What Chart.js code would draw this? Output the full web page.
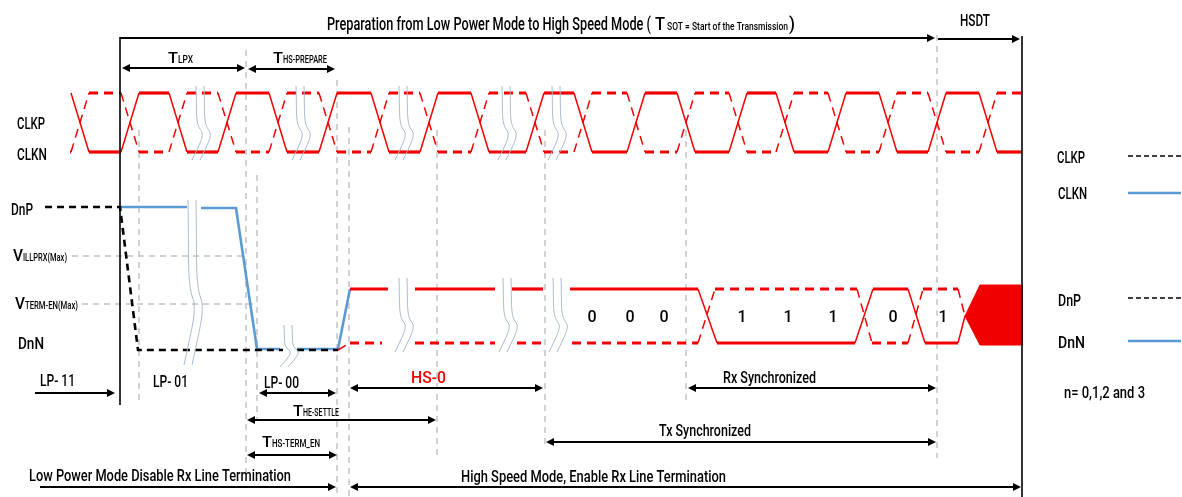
<!DOCTYPE html>
<html>
<head>
<meta charset="utf-8">
<script src="https://cdn.jsdelivr.net/npm/chart.js@4.4.0/dist/chart.umd.min.js"></script>
<style>
  html, body { margin: 0; padding: 0; background: #fff; }
  #wrap { width: 1182px; height: 497px; position: relative; }
</style>
</head>
<body>
<div id="wrap"><canvas id="myChart"></canvas></div>
<script>
// ---- values (diagram units: time -> x, level -> y) ----

// clock lane: crossing times of CLKP/CLKN
const clkEdges = [80, 130, 178, 227, 278, 328, 380, 429, 480, 535, 583, 636, 686, 738, 785, 837, 888, 937, 988];
const clkHigh = 93;
const clkLow = 152;
const clkStart = 71;
const clkEnd = 1022;

// data lane, DnP (black dashed)
const dnpT = [45, 120, 138, 283, null, 297, 338];
const dnpV = [207, 207, 350, 350, null, 350, 350];

// data lane, DnN (blue)
const dnnT = [120, 187, null, 201, 236, 257, 280, null, 297, 338, 350];
const dnnV = [207, 207, null, 208, 208, 349, 349, null, 349, 349, 289];

// HS data lane, solid
const hsSolidT = [350, 388, null, 415, 495, null, 512, 543, null, 570, 698, 717, 855, 873, 908, 925, 958, 965];
const hsSolidV = [289, 289, null, 289, 289, null, 289, 289, null, 289, 289, 343, 343, 289, 289, 343, 343, 316];

// HS data lane, dashed
const hsDashT = [338, 350, 382, null, 415, 495, null, 517, 545, null, 572, 698, 715, 857, 872, 908, 923, 958, 965];
const hsDashV = [350, 343, 343, null, 343, 343, null, 343, 343, null, 343, 343, 289, 289, 343, 343, 289, 289, 316];

// HSDT burst
const burstT = [965, 980, 1022, 1022, 980, 965];
const burstV = [316, 285, 285, 345, 345, 316];

// transmitted bits
const bits = ['0', '0', '0', '1', '1', '1', '0', '1'];
const bitT = [592, 630, 664, 742, 788, 833, 893, 943];

// grey guide lines
const guideT = [139, 246, 257, 337, 349, 437, 545, 686, 937];
const guideTop = [130, 50, 175, 80, 127, 130, 130, 130, 35];
const guideBottom = [400, 478, 420, 497, 497, 460, 445, 400, 458];
const thrV = [256, 304];
const thrFrom = [72, 82];
const thrTo = [245, 255];

// time breaks (squiggles)
const clkBreaks = [200, 300, 403, 506, 556];
const dataBreakT = [192, 288, 403, 507, 557];
const dataBreakTop = [200, 325, 278, 278, 278];
const dataBreakBottom = [365, 367, 352, 352, 352];

// ---- helpers ----
const RED = '#f00000';
const BLUE = '#5b9bd5';
const FONT = 'Roboto, "Liberation Sans", sans-serif';

function zip(ts, vs) {
  return ts.map((t, i) => ({ x: t === null ? ts[i - 1] : t, y: vs[i] }));
}

function clockPoints(startHigh) {
  const ramp = 9;
  const lvl = h => (h ? clkHigh : clkLow);
  let high = startHigh;
  const pts = [{ x: clkStart, y: lvl(high) }];
  clkEdges.forEach(e => {
    pts.push({ x: e - ramp, y: lvl(high) });
    high = !high;
    pts.push({ x: e + ramp, y: lvl(high) });
  });
  pts.push({ x: clkEnd, y: lvl(high) });
  return pts;
}

const flatThick = (thick, thin) => ({
  borderWidth: c => (Math.abs(c.p0.y - c.p1.y) < 0.5 ? thick : thin)
});

function guidePoints() {
  const pts = [];
  guideT.forEach((t, i) => {
    pts.push({ x: t, y: guideTop[i] }, { x: t, y: guideBottom[i] }, { x: t, y: null });
  });
  thrV.forEach((v, i) => {
    pts.push({ x: thrFrom[i], y: v }, { x: thrTo[i], y: v }, { x: thrTo[i], y: null });
  });
  return pts;
}

// annotations: [text, x, baseline, width, size, color]
const labels = [
  ['Preparation from Low Power Mode to High Speed Mode (', 327, 30, 324, 18],
  ['T', 655, 30, 10, 18],
  ['SOT = Start of the Transmission', 667, 30, 121, 11],
  [')', 789, 30, 6, 18],
  ['HSDT', 960, 26, 30, 17],
  ['T', 168, 63, 10, 15], ['LPX', 178, 63, 15, 10],
  ['T', 273, 63, 10, 15], ['HS-PREPARE', 283, 63, 44, 10],
  ['CLKP', 17, 129, 28, 17],
  ['CLKN', 17, 160, 30, 17],
  ['DnP', 11, 215, 22, 17],
  ['V', 13, 261, 10, 17], ['ILLPRX(Max)', 23, 261, 44, 11],
  ['V', 15, 309, 10, 17], ['TERM-EN(Max)', 25, 309, 53, 11],
  ['DnN', 18, 349, 26, 17],
  ['LP- 11', 40, 386, 35, 16],
  ['LP- 01', 153, 387, 35, 16],
  ['LP- 00', 264, 388, 35, 16],
  ['HS-0', 411, 383, 35, 16, RED],
  ['Rx Synchronized', 723, 383, 93, 16],
  ['T', 293, 416, 10, 15], ['HE-SETTLE', 303, 416, 36, 10],
  ['T', 262, 447, 10, 15], ['HS-TERM_EN', 272, 447, 48, 10],
  ['Tx Synchronized', 659, 436, 92, 16],
  ['Low Power Mode Disable Rx Line Termination', 29, 481, 262, 16],
  ['High Speed Mode, Enable Rx Line Termination', 461, 482, 265, 16],
  ['CLKP', 1057, 163, 28, 16],
  ['CLKN', 1058, 199, 29, 16],
  ['DnP', 1058, 306, 23, 16],
  ['DnN', 1058, 348, 27, 16],
  ['n= 0,1,2 and 3', 1064, 398, 81, 16]
];

// arrows: [from, to, y, heads]
const arrows = [
  [120, 935, 38, 'end'],
  [938, 1020, 39, 'end'],
  [122, 245, 68, 'both'],
  [248, 335, 69, 'both'],
  [35, 115, 393, 'end'],
  [259, 336, 393, 'both'],
  [350, 543, 388, 'both'],
  [688, 936, 388, 'both'],
  [247, 436, 420, 'both'],
  [247, 337, 455, 'both'],
  [546, 936, 442, 'both'],
  [40, 336, 487, 'end'],
  [350, 1021, 487, 'both']
];

// solid black frame lines: [x, top, bottom]
const frameLines = [[120, 37, 405], [1022, 36, 497]];

// legend samples: [y, dashed]
const legendLines = [[156, true], [193, false], [298, true], [341, false]];

const diagramPlugin = {
  id: 'diagram',
  afterDatasetsDraw(chart) {
    const c = chart.ctx;
    const sx = chart.scales.x, sy = chart.scales.y;
    const X = v => sx.getPixelForValue(v);
    const Y = v => sy.getPixelForValue(v);

    // squiggles
    c.save();
    c.strokeStyle = '#a7bcd2';
    c.lineWidth = 1;
    const squiggle = (t, top, bot) => {
      const x = X(t), y0 = Y(top), y1 = Y(bot), h = y1 - y0;
      [-4, 4].forEach(dx => {
        const x0 = x + dx;
        c.beginPath();
        c.moveTo(x0, y0);
        c.bezierCurveTo(x0 + 1, y0 + h * 0.35, x0 - 1, y0 + h * 0.5, x0 + 5, y0 + h * 0.6);
        c.bezierCurveTo(x0 + 9, y0 + h * 0.67, x0 + 3, y0 + h * 0.8, x0 - 4, y1);
        c.stroke();
      });
    };
    clkBreaks.forEach(t => squiggle(t, 86, 160));
    dataBreakT.forEach((t, i) => squiggle(t, dataBreakTop[i], dataBreakBottom[i]));
    c.restore();

    // frame lines
    c.save();
    c.strokeStyle = '#000';
    c.lineWidth = 1.6;
    frameLines.forEach(([t, a, b]) => {
      c.beginPath(); c.moveTo(X(t), Y(a)); c.lineTo(X(t), Y(b)); c.stroke();
    });
    c.restore();

    // arrows
    c.save();
    c.strokeStyle = '#000';
    c.fillStyle = '#000';
    c.lineWidth = 1.8;
    const head = (x, y, dir) => {
      c.beginPath();
      c.moveTo(x, y);
      c.lineTo(x - dir * 8, y - 4);
      c.lineTo(x - dir * 8, y + 4);
      c.closePath();
      c.fill();
    };
    arrows.forEach(([a, b, v, h]) => {
      const x1 = X(a), x2 = X(b), y = Y(v);
      c.beginPath(); c.moveTo(x1 + (h === 'both' ? 4 : 0), y); c.lineTo(x2 - 4, y); c.stroke();
      if (h === 'both' || h === 'end') head(x2, y, 1);
      if (h === 'both') head(x1, y, -1);
    });
    c.restore();

    // legend samples
    c.save();
    legendLines.forEach(([v, dashed]) => {
      c.beginPath();
      c.strokeStyle = dashed ? '#000' : BLUE;
      c.lineWidth = dashed ? 1.6 : 2.5;
      c.setLineDash(dashed ? [5, 3] : []);
      c.moveTo(X(1128), Y(v)); c.lineTo(X(1181), Y(v));
      c.stroke();
    });
    c.restore();

    // texts
    labels.forEach(([s, t, v, w, size, color]) => {
      c.save();
      c.font = '500 ' + size + 'px ' + FONT;
      const m = c.measureText(s).width;
      c.translate(X(t), Y(v));
      c.scale((X(t + w) - X(t)) / m, 1);
      c.fillStyle = color || '#000';
      c.textBaseline = 'alphabetic';
      c.fillText(s, 0, 0);
      c.restore();
    });

    // bits
    c.save();
    c.font = '500 16px ' + FONT;
    c.fillStyle = '#000';
    c.textAlign = 'center';
    c.textBaseline = 'alphabetic';
    bits.forEach((b, i) => c.fillText(b, X(bitT[i]), Y(322)));
    c.restore();
  }
};

const datasets = [
  {
    label: 'CLK solid', data: clockPoints(true), borderColor: RED,
    segment: flatThick(3.2, 1.5), order: 1
  },
  {
    label: 'CLK dashed', data: clockPoints(false).map((p, i) => (i === 0 ? { x: 70, y: p.y } : p)),
    borderColor: RED, borderDash: [9, 6], segment: flatThick(3.2, 1.5), order: 1
  },
  {
    label: 'DnP', data: zip(dnpT, dnpV), borderColor: '#000', borderDash: [7, 5],
    borderWidth: 2.6, order: 2
  },
  {
    label: 'DnN', data: zip(dnnT, dnnV), borderColor: BLUE, borderWidth: 2.6, order: 3
  },
  {
    label: 'HS solid', data: zip(hsSolidT, hsSolidV), borderColor: RED,
    segment: flatThick(3.2, 1.5), order: 1
  },
  {
    label: 'HS dashed', data: zip(hsDashT, hsDashV), borderColor: RED, borderDash: [9, 6],
    segment: flatThick(3.2, 1.5), order: 1
  },
  {
    label: 'HSDT', data: zip(burstT, burstV), borderColor: RED, backgroundColor: RED,
    borderWidth: 1, fill: 'shape', order: 1
  },
  {
    label: 'guides', data: guidePoints(), borderColor: '#c4c4c4', borderDash: [6, 5],
    borderWidth: 1.5, order: 10
  }
];

const ctx = document.getElementById('myChart').getContext('2d');
const myChart = new Chart(ctx, {
  type: 'line',
  data: { datasets: datasets },
  options: {
    responsive: true,
    maintainAspectRatio: false,
    animation: false,
    events: [],
    layout: { padding: 0 },
    elements: {
      point: { radius: 0, hoverRadius: 0 },
      line: { tension: 0, fill: false, borderCapStyle: 'butt' }
    },
    plugins: { legend: { display: false }, tooltip: { enabled: false } },
    scales: {
      x: { type: 'linear', min: 0, max: 1182, display: false },
      y: { type: 'linear', min: 0, max: 497, reverse: true, display: false }
    }
  },
  plugins: [diagramPlugin]
});
</script>
</body>
</html>
